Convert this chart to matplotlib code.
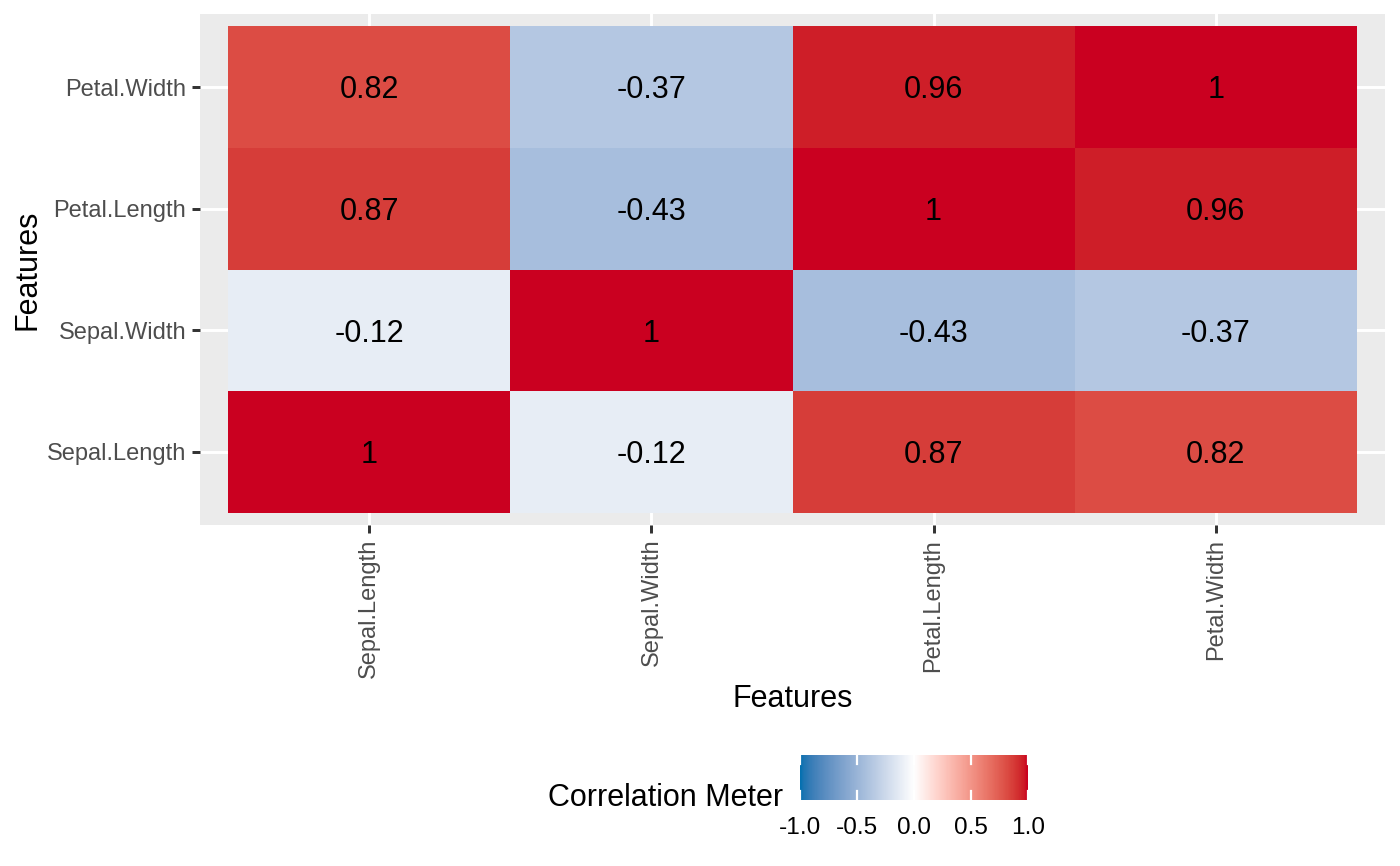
import numpy as np
import matplotlib
matplotlib.use("Agg")
import matplotlib.pyplot as plt
from matplotlib.colors import ListedColormap

plt.rcParams['font.family'] = ['Liberation Sans', 'DejaVu Sans']

features = ["Sepal.Length", "Sepal.Width", "Petal.Length", "Petal.Width"]
# righe = asse y (dal basso), colonne = asse x
corr = np.array([
    [1.00, -0.12, 0.87, 0.82],
    [-0.12, 1.00, -0.43, -0.37],
    [0.87, -0.43, 1.00, 0.96],
    [0.82, -0.37, 0.96, 1.00],
])
cbar_ticks = [-1.0, -0.5, 0.0, 0.5, 1.0]

# scala divergente tipo scale_fill_gradient2 (interpolazione in Lab)
low, mid, high = "#0571B0", "#FFFFFF", "#CA0020"


def hex2rgb(h):
    h = h.lstrip("#")
    return np.array([int(h[i:i + 2], 16) / 255 for i in (0, 2, 4)])


M = np.array([[0.4124, 0.3576, 0.1805],
              [0.2126, 0.7152, 0.0722],
              [0.0193, 0.1192, 0.9505]])
wp = np.array([0.95047, 1.0, 1.08883])


def rgb2lab(c):
    lin = np.where(c <= 0.04045, c / 12.92, ((c + 0.055) / 1.055) ** 2.4)
    xyz = M @ lin / wp
    f = np.where(xyz > (6 / 29) ** 3, np.cbrt(xyz), xyz / (3 * (6 / 29) ** 2) + 4 / 29)
    return np.array([116 * f[1] - 16, 500 * (f[0] - f[1]), 200 * (f[1] - f[2])])


def lab2rgb(lab):
    fy = (lab[0] + 16) / 116
    fx = fy + lab[1] / 500
    fz = fy - lab[2] / 200
    f = np.array([fx, fy, fz])
    xyz = np.where(f > 6 / 29, f ** 3, 3 * (6 / 29) ** 2 * (f - 4 / 29)) * wp
    lin = np.linalg.solve(M, xyz)
    lin = np.clip(lin, 0, 1)
    c = np.where(lin <= 0.0031308, 12.92 * lin, 1.055 * lin ** (1 / 2.4) - 0.055)
    return np.clip(c, 0, 1)


labs = [rgb2lab(hex2rgb(h)) for h in (low, mid, high)]
cols = []
for t in np.linspace(-1, 1, 256):
    if t < 0:
        lab = labs[1] + (labs[0] - labs[1]) * (-t)
    else:
        lab = labs[1] + (labs[2] - labs[1]) * t
    cols.append(lab2rgb(lab))
cmap = ListedColormap(cols)

fig = plt.figure(figsize=(7, 4.33), dpi=200)
ax = fig.add_axes([200 / 1400, 1 - 525 / 866, 1185 / 1400, 511 / 866])
ax.set_facecolor("#EBEBEB")

n = len(features)
for sp in ax.spines.values():
    sp.set_visible(False)
for i in range(n):
    ax.axhline(i, color="white", lw=1.07, zorder=0)
    ax.axvline(i, color="white", lw=1.07, zorder=0)

edges = np.arange(n + 1) - 0.5
ax.pcolormesh(edges, edges, corr, cmap=cmap, vmin=-1, vmax=1, zorder=1)
for i in range(n):
    for j in range(n):
        ax.text(j, i, "{:g}".format(corr[i, j]), ha="center",
                va="center_baseline", fontsize=11, color="black", zorder=2)

ax.set_xlim(-0.6, n - 0.4)
ax.set_ylim(-0.6, n - 0.4)
ax.set_xticks(range(n))
ax.set_yticks(range(n))
ax.set_xticklabels(features, rotation=90, fontsize=8.5, color="#4D4D4D")
ax.set_yticklabels(features, fontsize=8.5, color="#4D4D4D")
ax.tick_params(length=2.75, width=1.07, color="#333333", pad=2.2)
ax.set_xlabel("Features", fontsize=11)
ax.set_ylabel("Features", fontsize=11)
ax.xaxis.set_label_coords(0.5, (525 - 684) / 511)
ax.yaxis.set_label_coords((42 - 200) / 1185, 0.5)

# legenda colorbar
cax = fig.add_axes([800 / 1400, 1 - 800 / 866, 228 / 1400, 45 / 866])
grad = np.linspace(-1, 1, 300).reshape(1, -1)
cax.imshow(grad, cmap=cmap, vmin=-1, vmax=1, aspect="auto",
           extent=[-1, 1, 0, 1])
for v in cbar_ticks:
    cax.plot([v, v], [0, 0.2], color="white", lw=0.8)
    cax.plot([v, v], [0.8, 1], color="white", lw=0.8)
cax.set_xlim(-1, 1)
cax.set_ylim(0, 1)
cax.set_yticks([])
cax.set_xticks(cbar_ticks)
cax.set_xticklabels(["{:.1f}".format(v) for v in cbar_ticks], fontsize=8.8)
cax.tick_params(length=0, pad=6)
for sp in cax.spines.values():
    sp.set_visible(False)
fig.text(783 / 1400, 1 - 798 / 866, "Correlation Meter", ha="right",
         va="center", fontsize=11)

plt.savefig("out.png", dpi=200)
